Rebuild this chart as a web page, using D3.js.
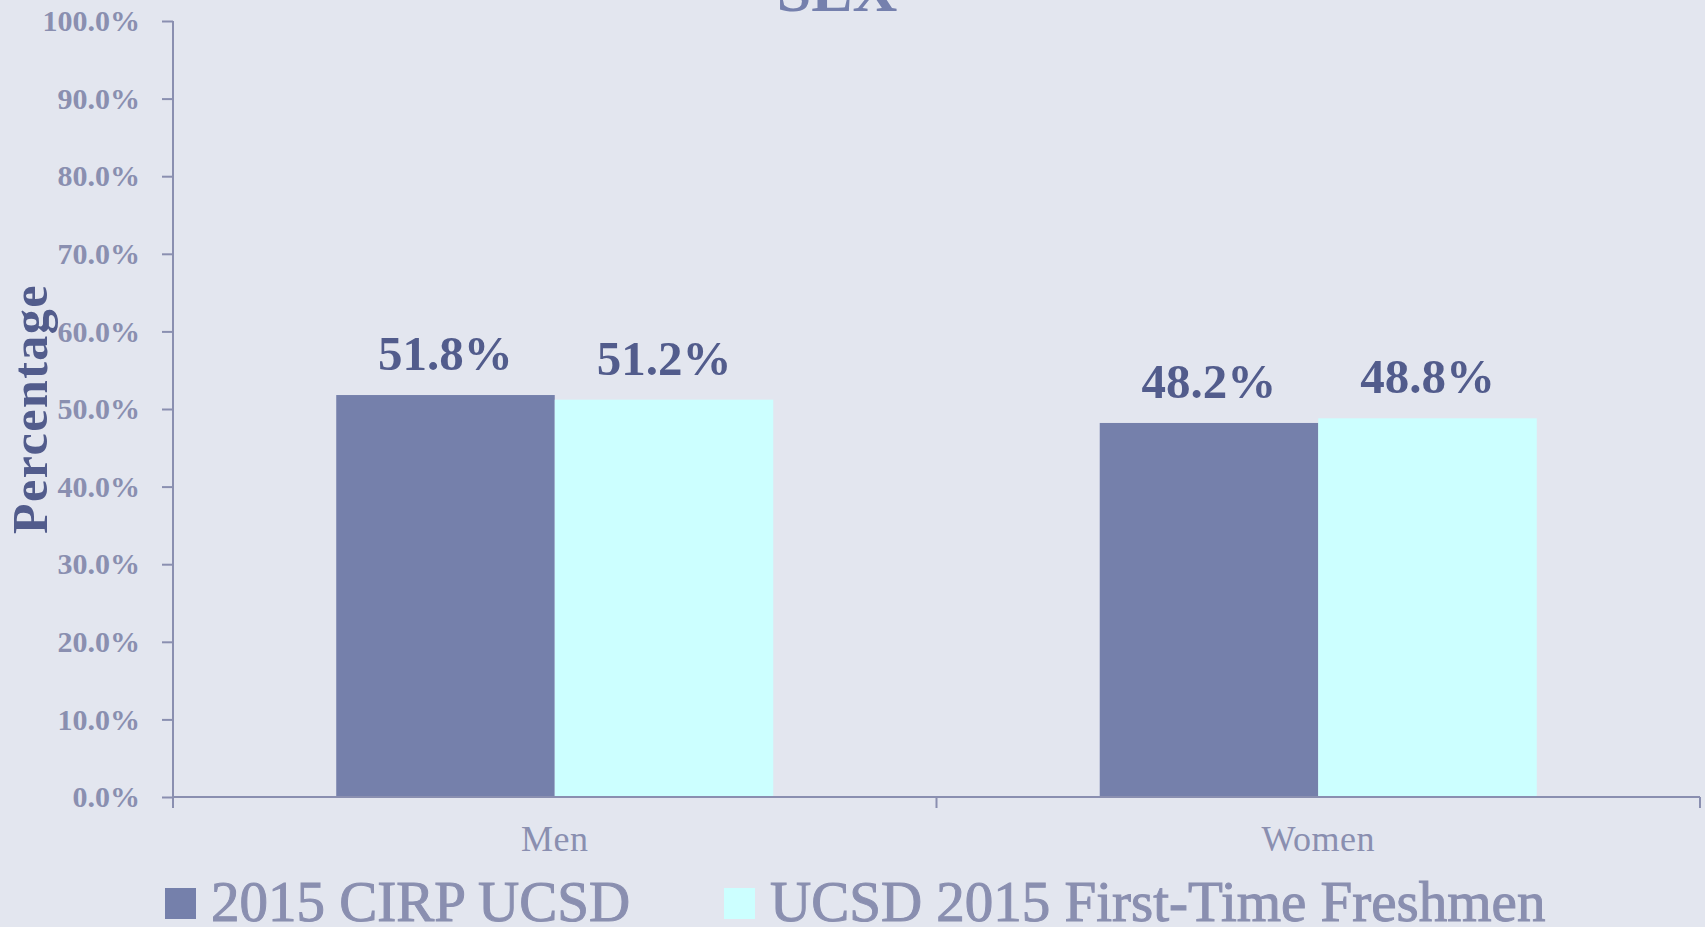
<!DOCTYPE html>
<html>
<head>
<meta charset="utf-8">
<script src="https://cdn.jsdelivr.net/npm/d3@7"></script>
<style>
  html, body { margin: 0; padding: 0; background: #e3e6ef; }
  svg { display: block; font-family: "Liberation Serif", "DejaVu Serif", serif; }
</style>
</head>
<body>
<div id="chart"></div>
<script>
// data
const categories = ['Men', 'Women'];
const seriesNames = ['2015 CIRP UCSD', 'UCSD 2015 First-Time Freshmen'];
const cirpValues = [51.8, 48.2];
const ucsdValues = [51.2, 48.8];
const yTicks = [0, 10, 20, 30, 40, 50, 60, 70, 80, 90, 100];

const seriesColors = ['#7580ab', '#ccffff'];
const axisColor = '#8a8fb0';
const labelColor = '#525c8c';

const width = 1705, height = 927;
const margin = {top: 21, right: 5, bottom: 130, left: 173};

const svg = d3.select('#chart').append('svg')
  .attr('width', width)
  .attr('height', height);

svg.append('rect')
  .attr('width', width)
  .attr('height', height)
  .attr('fill', '#e3e6ef');

// scales
const x0 = d3.scaleBand()
  .domain(categories)
  .range([margin.left, width - margin.right])
  .padding(0);

const x1 = d3.scaleBand()
  .domain(seriesNames)
  .range([0, x0.bandwidth()])
  .paddingInner(0)
  .paddingOuter(0.747);

const y = d3.scaleLinear()
  .domain([0, 100])
  .range([height - margin.bottom, margin.top]);

// rows for the grouped bars
const rows = categories.map((c, i) => ({
  cat: c,
  vals: [
    {name: seriesNames[0], value: cirpValues[i]},
    {name: seriesNames[1], value: ucsdValues[i]}
  ]
}));

// bars
const groups = svg.selectAll('g.grp')
  .data(rows)
  .enter()
  .append('g')
  .attr('class', 'grp')
  .attr('transform', d => `translate(${x0(d.cat)},0)`);

groups.selectAll('rect')
  .data(d => d.vals)
  .enter()
  .append('rect')
  .attr('x', d => x1(d.name))
  .attr('y', d => y(d.value))
  .attr('width', x1.bandwidth())
  .attr('height', d => y(0) - y(d.value))
  .attr('fill', (d, i) => seriesColors[i]);

// value labels
groups.selectAll('text.val')
  .data(d => d.vals)
  .enter()
  .append('text')
  .attr('class', 'val')
  .attr('x', d => x1(d.name) + x1.bandwidth() / 2)
  .attr('y', d => y(d.value) - 25)
  .attr('text-anchor', 'middle')
  .style('font-size', '49px')
  .style('font-weight', 'bold')
  .attr('fill', labelColor)
  .text(d => d.value.toFixed(1) + '%');

// y axis
const yAxis = svg.append('g')
  .attr('transform', `translate(${margin.left},0)`)
  .call(d3.axisLeft(y)
    .tickValues(yTicks)
    .tickSize(11)
    .tickSizeOuter(0)
    .tickPadding(22)
    .tickFormat(d => d.toFixed(1) + '%'));

yAxis.select('.domain')
  .attr('stroke', axisColor)
  .attr('stroke-width', 2)
  .attr('d', `M0,${y(100)}V${y(0) + 11}`);
yAxis.selectAll('.tick line').attr('stroke', axisColor).attr('stroke-width', 2);
yAxis.selectAll('.tick text')
  .attr('fill', axisColor)
  .style('font-family', '"Liberation Serif", serif')
  .style('font-size', '30px')
  .style('font-weight', 'bold');

// x axis: line with ticks on the band edges
const xAxis = svg.append('g');
xAxis.append('line')
  .attr('x1', x0.range()[0])
  .attr('x2', x0.range()[1])
  .attr('y1', y(0))
  .attr('y2', y(0))
  .attr('stroke', axisColor)
  .attr('stroke-width', 2);

const edges = categories.map(c => x0(c)).concat([x0(categories[categories.length - 1]) + x0.bandwidth()]);
xAxis.selectAll('line.edge')
  .data(edges)
  .enter()
  .append('line')
  .attr('class', 'edge')
  .attr('x1', d => d)
  .attr('x2', d => d)
  .attr('y1', y(0))
  .attr('y2', y(0) + 11)
  .attr('stroke', axisColor)
  .attr('stroke-width', 2);

xAxis.selectAll('text')
  .data(categories)
  .enter()
  .append('text')
  .attr('x', d => x0(d) + x0.bandwidth() / 2)
  .attr('y', 851)
  .attr('text-anchor', 'middle')
  .style('font-size', '36px')
  .style('letter-spacing', '0.5px')
  .attr('fill', axisColor)
  .text(d => d);

// y axis title
svg.append('text')
  .attr('transform', `translate(47,${(283 + 535) / 2}) rotate(-90)`)
  .attr('text-anchor', 'middle')
  .style('font-size', '50px')
  .style('font-weight', 'bold')
  .style('letter-spacing', '1.5px')
  .attr('fill', labelColor)
  .text('Percentage');

// title (cut off at the top, as in the original)
svg.append('text')
  .attr('x', 837)
  .attr('y', 11)
  .attr('text-anchor', 'middle')
  .style('font-size', '62px')
  .style('font-weight', 'bold')
  .attr('fill', '#7580ad')
  .text('SEX');

// legend
const legendX = [165, 724];
const legend = svg.selectAll('g.legend')
  .data(seriesNames)
  .enter()
  .append('g')
  .attr('class', 'legend')
  .attr('transform', (d, i) => `translate(${legendX[i]},888)`);

legend.append('rect')
  .attr('width', 31)
  .attr('height', 31)
  .attr('fill', (d, i) => seriesColors[i]);

legend.append('text')
  .attr('x', 46)
  .attr('y', 33)
  .style('font-size', '57px')
  .attr('fill', axisColor)
  .attr('stroke', axisColor)
  .attr('stroke-width', 1)
  .text(d => d);
</script>
</body>
</html>
